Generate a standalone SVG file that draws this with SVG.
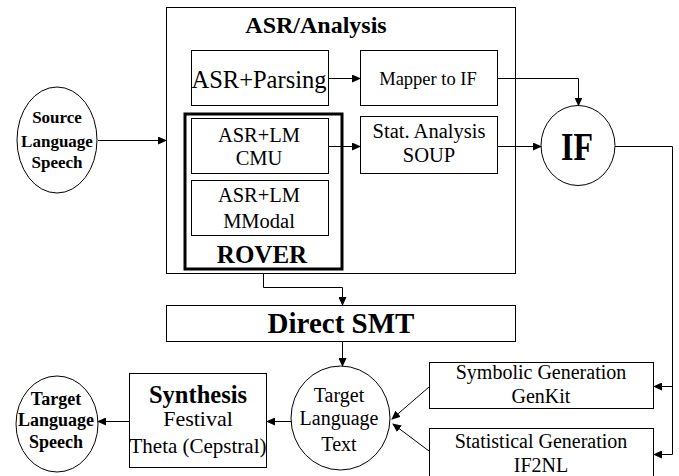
<svg xmlns="http://www.w3.org/2000/svg" width="679" height="476" viewBox="0 0 679 476">
<defs>
<marker id="ah" markerWidth="9" markerHeight="8" refX="8" refY="4" orient="auto" markerUnits="userSpaceOnUse">
<path d="M0,0 L9,4 L0,8 z" fill="#000"/>
</marker>
<style>
.b{fill:#fff;stroke:#000;stroke-width:1}
text{font-family:'Liberation Serif','Times New Roman',Times,serif;fill:#000;text-anchor:middle}
.bd{font-weight:bold}
.c{fill:none;stroke:#000;stroke-width:1;marker-end:url(#ah)}
</style>
</defs>
<rect width="679" height="476" fill="#fff"/>
<g id="asr-analysis">
<rect class="b" x="166.5" y="7.5" width="349" height="266"/>
<text class="bd" x="316" y="33" font-size="24">ASR/Analysis</text>
</g>
<g id="rover">
<rect x="185" y="114" width="157" height="155" fill="#fff" stroke="#000" stroke-width="3"/>
<text class="bd" x="262" y="263" font-size="25">ROVER</text>
</g>
<g id="asr-parsing">
<rect class="b" x="191.5" y="50.5" width="137" height="55"/>
<text x="259" y="88" font-size="24.5">ASR+Parsing</text>
</g>
<g id="asr-lm-cmu">
<rect class="b" x="191.5" y="118.5" width="137" height="55"/>
<text x="259" y="142" font-size="20.5">ASR+LM</text>
<text x="259" y="165" font-size="20.5">CMU</text>
</g>
<g id="asr-lm-mmodal">
<rect class="b" x="191.5" y="180.5" width="137" height="55"/>
<text x="259" y="202" font-size="20.5">ASR+LM</text>
<text x="259" y="228" font-size="20.5">MModal</text>
</g>
<g id="mapper">
<rect class="b" x="360.5" y="50.5" width="137" height="55"/>
<text x="428" y="85" font-size="18.5">Mapper to IF</text>
</g>
<g id="stat-analysis">
<rect class="b" x="360.5" y="116.5" width="137" height="57"/>
<text x="429" y="138" font-size="20.5">Stat. Analysis</text>
<text x="429" y="162" font-size="20.5">SOUP</text>
</g>
<g id="if">
<ellipse class="b" cx="578" cy="145.5" rx="37" ry="40"/>
<text class="bd" x="577" y="160" font-size="41" textLength="32" lengthAdjust="spacingAndGlyphs">IF</text>
</g>
<g id="source-speech">
<ellipse class="b" cx="57" cy="140" rx="40" ry="53"/>
<text class="bd" x="57" y="123" font-size="17">Source</text>
<text class="bd" x="57" y="147" font-size="17">Language</text>
<text class="bd" x="57" y="168" font-size="17">Speech</text>
</g>
<g id="direct-smt">
<rect class="b" x="166.5" y="305.5" width="349" height="36"/>
<text class="bd" x="341" y="333" font-size="29">Direct SMT</text>
</g>
<g id="target-text">
<ellipse class="b" cx="340.5" cy="418" rx="49.5" ry="52"/>
<text x="339" y="402" font-size="20">Target</text>
<text x="339" y="425" font-size="20">Language</text>
<text x="339" y="451" font-size="20">Text</text>
</g>
<g id="synthesis">
<rect class="b" x="129.5" y="373.5" width="137" height="94"/>
<text class="bd" x="198" y="403" font-size="24.5">Synthesis</text>
<text x="198" y="426" font-size="22">Festival</text>
<text x="198" y="453" font-size="21">Theta (Cepstral)</text>
</g>
<g id="target-speech">
<ellipse class="b" cx="57" cy="424" rx="41" ry="48"/>
<text class="bd" x="56" y="405" font-size="18">Target</text>
<text class="bd" x="56" y="426" font-size="18">Language</text>
<text class="bd" x="56" y="448" font-size="18">Speech</text>
</g>
<g id="symbolic-gen">
<rect class="b" x="429.5" y="362.5" width="224" height="46"/>
<text x="541" y="379" font-size="20">Symbolic Generation</text>
<text x="541" y="403" font-size="20">GenKit</text>
</g>
<g id="statistical-gen">
<rect class="b" x="429.5" y="428.5" width="224" height="52"/>
<text x="541" y="448" font-size="20">Statistical Generation</text>
<text x="541" y="472" font-size="20">IF2NL</text>
</g>
<g id="connectors">
<path class="c" d="M98,140.5 H166"/>
<path class="c" d="M328,78.5 H360"/>
<path class="c" d="M328,146.5 H360"/>
<path class="c" d="M497,78.5 H578.5 V105.5"/>
<path class="c" d="M497,146.5 H541"/>
<path class="c" d="M615,146.5 H672.5 V386.5 H654"/>
<path class="c" d="M672.5,386 V454.5 H654"/>
<path class="c" d="M263.5,273 V287.5 H342.5 V305"/>
<path class="c" d="M342.5,341 V366"/>
<path class="c" d="M429,387 L392,419"/>
<path class="c" d="M429,451 L393,424"/>
<path class="c" d="M291,421.5 H267"/>
<path class="c" d="M129,421.5 H98"/>
</g>
</svg>
